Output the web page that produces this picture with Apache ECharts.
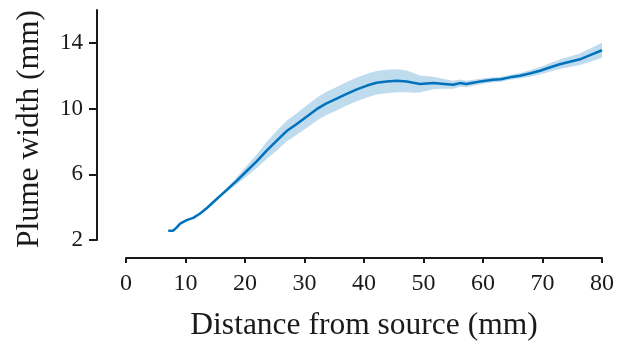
<!DOCTYPE html>
<html>
<head>
<meta charset="utf-8">
<script src="https://cdn.jsdelivr.net/npm/echarts@6/dist/echarts.min.js"></script>
<style>
html,body{margin:0;padding:0;background:#fff;}
#c{width:627px;height:347px;}
</style>
</head>
<body>
<div id="c"></div>
<script>
// Distance from source (mm)
var distance = [7.1, 7.9, 8.5, 9.1, 10.2, 11.3, 12.4, 13.6, 15.2, 16.9, 18.6, 20.3, 22.0, 23.6, 25.3, 27.0, 28.7, 30.4, 32.1, 33.7, 35.4, 37.1, 38.8, 40.5, 42.1, 43.8, 45.5, 47.2, 48.3, 49.4, 51.7, 53.5, 55.0, 56.1, 57.2, 59.5, 61.7, 63.0, 64.5, 66.2, 68.0, 69.6, 71.2, 72.9, 74.6, 76.3, 78.0, 80.0];
// Mean plume width (mm)
var meanWidth = [2.56, 2.56, 2.75, 3.0, 3.21, 3.35, 3.6, 3.95, 4.48, 5.04, 5.6, 6.2, 6.8, 7.43, 8.03, 8.63, 9.06, 9.52, 9.98, 10.32, 10.6, 10.9, 11.17, 11.4, 11.57, 11.65, 11.69, 11.65, 11.57, 11.5, 11.55, 11.5, 11.45, 11.55, 11.5, 11.65, 11.75, 11.78, 11.9, 12.0, 12.15, 12.3, 12.5, 12.7, 12.85, 13.0, 13.25, 13.55];
// Half-width of shaded spread band (mm)
var spread = [0.0, 0.0, 0.0, 0.02, 0.02, 0.03, 0.03, 0.04, 0.05, 0.12, 0.22, 0.32, 0.42, 0.52, 0.6, 0.63, 0.66, 0.68, 0.7, 0.71, 0.72, 0.72, 0.72, 0.72, 0.72, 0.72, 0.7, 0.66, 0.6, 0.52, 0.38, 0.3, 0.25, 0.22, 0.2, 0.17, 0.15, 0.15, 0.15, 0.17, 0.2, 0.23, 0.26, 0.29, 0.32, 0.35, 0.4, 0.46];
var yTicks = [2, 6, 10, 14];
var xTicks = [0, 10, 20, 30, 40, 50, 60, 70, 80];

var meanData = distance.map(function (d, i) { return [d, meanWidth[i]]; });
var bandRows = distance.map(function (d, i) { return [d, meanWidth[i] - spread[i], meanWidth[i] + spread[i]]; });

var FONT = '"Liberation Serif", "Times New Roman", serif';
var INK = '#1a1a1a';
var chart = echarts.init(document.getElementById('c'), null, {renderer: 'canvas'});
chart.setOption({
  animation: false,
  backgroundColor: '#ffffff',
  grid: {left: 126, right: 25, top: 10, bottom: 103, containLabel: false},
  xAxis: {
    type: 'value', min: xTicks[0], max: xTicks[xTicks.length - 1], interval: 10,
    offset: 18,
    name: 'Distance from source (mm)', nameLocation: 'middle', nameGap: 52,
    nameTextStyle: {fontFamily: FONT, fontSize: 31.5, color: INK},
    axisLine: {show: true, onZero: false, lineStyle: {color: INK, width: 2}},
    axisTick: {show: true, inside: false, length: 5, lineStyle: {color: INK, width: 2}},
    axisLabel: {margin: 14, fontFamily: FONT, fontSize: 24, color: INK},
    splitLine: {show: false}
  },
  yAxis: {
    type: 'value', min: 2, max: 16, interval: 4,
    offset: 29,
    name: 'Plume width (mm)', nameLocation: 'middle', nameGap: 51, nameRotate: 90,
    nameTextStyle: {fontFamily: FONT, fontSize: 31.5, color: INK, padding: [0, 8, 0, 0]},
    axisLine: {show: true, onZero: false, lineStyle: {color: INK, width: 2}},
    axisTick: {show: true, inside: false, length: 8, lineStyle: {color: INK, width: 2}},
    axisLabel: {margin: 14, fontFamily: FONT, fontSize: 23, color: INK, showMaxLabel: false,
      formatter: function (v) { return yTicks.indexOf(v) >= 0 ? String(v) : ''; }},
    splitLine: {show: false}
  },
  series: [
    {
      type: 'custom', silent: true, z: 1,
      data: [0],
      renderItem: function (params, api) {
        var upper = [], lower = [];
        for (var i = 0; i < bandRows.length; i++) {
          upper.push(api.coord([bandRows[i][0], bandRows[i][2]]));
          lower.push(api.coord([bandRows[i][0], bandRows[i][1]]));
        }
        var pts = upper.concat(lower.reverse());
        return {type: 'polygon', shape: {points: pts}, style: {fill: 'rgba(0,114,189,0.25)', stroke: null}};
      }
    },
    {type: 'line', data: meanData, symbol: 'none', silent: true,
     lineStyle: {color: '#0072BD', width: 2.5}, z: 3}
  ]
});
</script>
</body>
</html>
